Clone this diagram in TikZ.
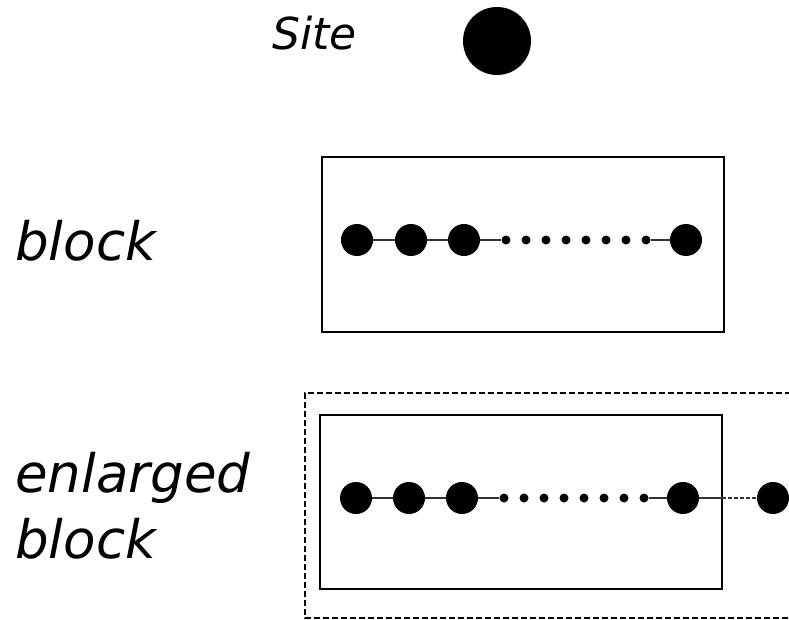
\documentclass[tikz,border=0pt]{standalone}
\usepackage{fontspec}
\setmainfont{DejaVu Sans}
\begin{document}
\begin{tikzpicture}[x=1pt, y=-1pt,
    site/.style={circle, fill=black, inner sep=0pt, minimum size=32pt},
    gapdot/.style={circle, fill=black, inner sep=0pt, minimum size=9pt},
    bond/.style={black!80, line width=1.3pt},
    boxline/.style={line width=2pt},
    namelabel/.style={anchor=base west, inner sep=0pt, align=left,
      font=\itshape\fontsize{53}{66}\selectfont}]
    \useasboundingbox (0,0) rectangle (789,620);

    % Single site
    \node[anchor=base west, inner sep=0pt, font=\itshape\fontsize{44}{52}\selectfont] (sitelabel) at (272,50) {Site};
    \node[site, minimum size=68pt] (s0) at (497,41) {};

    % Block
    \node[namelabel] (blocklabel) at (15,260) {block};
    \draw[boxline] (322,157) rectangle (724,332);
    \node[site] (b1) at (357,240) {};
    \node[site] (b2) at (411,240) {};
    \node[site] (b3) at (464,240) {};
    \foreach \i in {1,...,8}
        \node[gapdot] (bd\i) at (486+20*\i,240) {};
    \node[site] (b4) at (686,240) {};
    \draw[bond] (b1) -- (b2) -- (b3) -- (bd1);
    \draw[bond] (bd8) -- (b4);

    % Enlarged block
    \node[namelabel] (enlargedlabel) at (15,558) {enlarged\\block};
    \draw[line width=1.6pt, dash pattern=on 6pt off 3pt] (800,393) -- (305,393) -- (305,618) -- (800,618);
    \draw[boxline] (320,415) rectangle (722,589);
    \node[site] (e1) at (356,498) {};
    \node[site] (e2) at (409,498) {};
    \node[site] (e3) at (462,498) {};
    \foreach \i in {1,...,8}
        \node[gapdot] (ed\i) at (484+20*\i,498) {};
    \node[site] (e4) at (683,498) {};
    \node[site] (e5) at (773,498) {};
    \coordinate (edge) at (722,498);
    \draw[bond] (e1) -- (e2) -- (e3) -- (ed1);
    \draw[bond] (ed8) -- (e4) -- (edge);
    \draw[bond, dash pattern=on 4pt off 2pt] (edge) -- (e5);
\end{tikzpicture}
\end{document}
